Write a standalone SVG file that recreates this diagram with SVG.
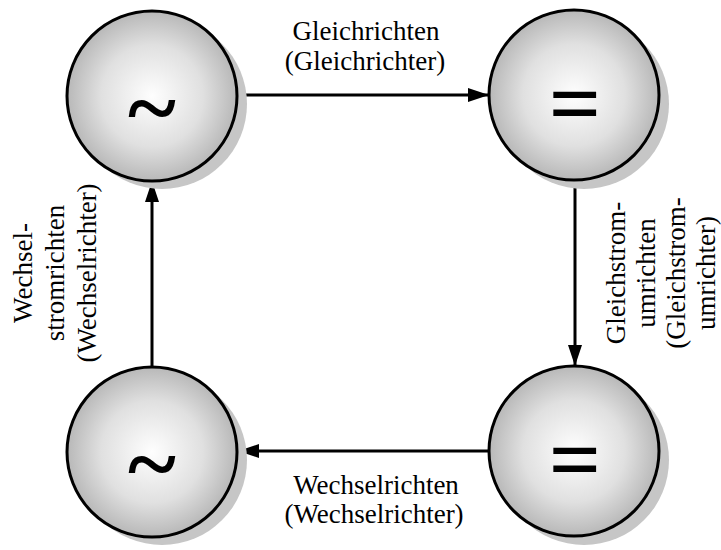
<svg xmlns="http://www.w3.org/2000/svg" width="721" height="550" viewBox="0 0 721 550">
  <style>
    .shadow { fill: #c6c6c6; }
    .circ { fill: url(#g); stroke: #000; stroke-width: 3; }
    .sym { font-family: "Liberation Serif", "Times New Roman", serif; font-weight: bold; font-size: 92px; fill: #000; text-anchor: middle; }
    .lbl { font-family: "Liberation Serif", "Times New Roman", serif; font-size: 27px; fill: #000; text-anchor: middle; }
    .conn { stroke: #000; stroke-width: 3; fill: none; marker-end: url(#ah); }
  </style>
  <defs>
    <radialGradient id="g" cx="0.5" cy="0.5" r="0.5">
      <stop offset="0" stop-color="#fefefe"/>
      <stop offset="0.6" stop-color="#e0e0e0"/>
      <stop offset="1" stop-color="#b8b8b8"/>
    </radialGradient>
    <marker id="ah" markerUnits="userSpaceOnUse" markerWidth="22" markerHeight="14" refX="21" refY="7" orient="auto">
      <path d="M0,0 L21,7 L0,14 Z" fill="#000"/>
    </marker>
  </defs>
  <rect width="721" height="550" fill="#fff"/>

  <g id="connectors">
    <line class="conn" x1="238" y1="95" x2="489" y2="95"/>
    <line class="conn" x1="575" y1="180" x2="575" y2="366"/>
    <line class="conn" x1="489" y1="451" x2="238" y2="451"/>
    <line class="conn" x1="152" y1="366" x2="152" y2="181"/>
  </g>

  <g id="node-ac-top">
    <circle class="shadow" cx="162" cy="104" r="85"/>
    <circle class="circ" cx="152" cy="96" r="85"/>
    <text class="sym" x="152" y="138">~</text>
  </g>
  <g id="node-dc-top">
    <circle class="shadow" cx="584" cy="104" r="85"/>
    <circle class="circ" cx="574" cy="95" r="85"/>
    <text class="sym" x="575" y="134">=</text>
  </g>
  <g id="node-dc-bottom">
    <circle class="shadow" cx="584" cy="460" r="85"/>
    <circle class="circ" cx="574" cy="451" r="85"/>
    <text class="sym" x="575" y="490">=</text>
  </g>
  <g id="node-ac-bottom">
    <circle class="shadow" cx="162" cy="460" r="85"/>
    <circle class="circ" cx="152" cy="452" r="85"/>
    <text class="sym" x="152" y="494">~</text>
  </g>

  <g id="labels">
    <text class="lbl" x="366" y="40">Gleichrichten</text>
    <text class="lbl" x="365" y="70">(Gleichrichter)</text>
    <text class="lbl" x="376" y="494">Wechselrichten</text>
    <text class="lbl" x="374" y="523">(Wechselrichter)</text>
    <g transform="translate(0,273) rotate(-90)">
      <text class="lbl" x="0" y="32">Wechsel-</text>
      <text class="lbl" x="0" y="64">stromrichten</text>
      <text class="lbl" x="0" y="96">(Wechselrichter)</text>
    </g>
    <g transform="translate(0,273) rotate(-90)">
      <text class="lbl" x="0" y="625">Gleichstrom-</text>
      <text class="lbl" x="0" y="655">umrichten</text>
      <text class="lbl" x="0" y="685">(Gleichstrom-</text>
      <text class="lbl" x="0" y="715">umrichter)</text>
    </g>
  </g>
</svg>
